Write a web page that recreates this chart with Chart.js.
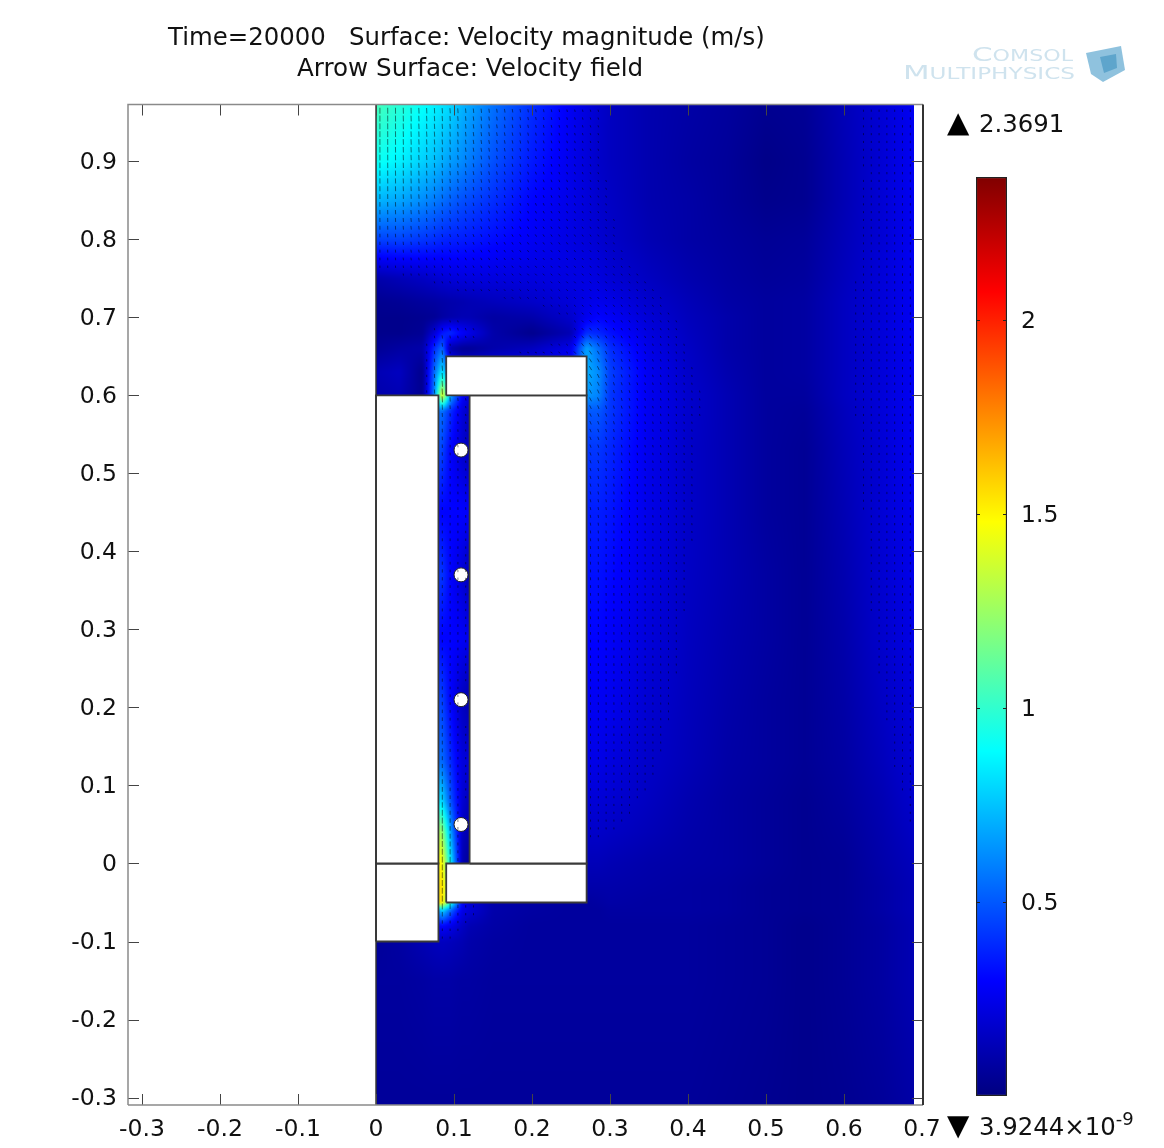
<!DOCTYPE html>
<html>
<head>
<meta charset="utf-8">
<title>Velocity magnitude</title>
<script src="https://cdn.jsdelivr.net/npm/chart.js@4"></script>
<style>
    body { margin: 0; background: #fff; font-family: "DejaVu Sans", sans-serif; color: #111; }
    canvas { position: absolute; }
    .label { position: absolute; font-size: 24.4px; line-height: 28px; white-space: pre; }
    .label sup { font-size: 18px; position: relative; top: -10px; line-height: 0; vertical-align: baseline; }
    .mark { font-size: 29px; color: #000; }
    #logo { position: absolute; left: 895px; top: 40px; }
</style>
</head>
<body>
<canvas id="fieldChart" width="1164" height="1148" style="left:0;top:0"></canvas>
<canvas id="colorBar" width="204" height="960" style="left:960px;top:160px"></canvas>

<div class="label" style="left:168px;top:23px">Time=20000   Surface: Velocity magnitude (m/s)</div>
<div class="label" style="left:297px;top:54px;font-size:24.6px">Arrow Surface: Velocity field</div>
<div class="label mark" style="left:947px;top:108px">▲</div>
<div class="label" style="left:979px;top:110px">2.3691</div>
<div class="label mark" style="left:947px;top:1111px">▼</div>
<div class="label" style="left:979px;top:1113px">3.9244×10<sup>-9</sup></div>

<svg id="logo" width="240" height="50">
    <text x="77" y="21" textLength="101" lengthAdjust="spacingAndGlyphs" fill="#cfe3ee"><tspan font-size="20">C</tspan><tspan font-size="15">OMSOL</tspan></text>
    <text x="8" y="39" textLength="172" lengthAdjust="spacingAndGlyphs" fill="#cfe3ee"><tspan font-size="20">M</tspan><tspan font-size="15">ULTIPHYSICS</tspan></text>
    <polygon points="191,13 226,6 230,30 208,42 196,34" fill="#8fc2de"/>
    <polygon points="205,17 221,14 222,28 209,33" fill="#5ea5cc"/>
</svg>

<script>
const xTicks = [-0.3, -0.2, -0.1, 0, 0.1, 0.2, 0.3, 0.4, 0.5, 0.6, 0.7];
const yTicks = [-0.3, -0.2, -0.1, 0, 0.1, 0.2, 0.3, 0.4, 0.5, 0.6, 0.7, 0.8, 0.9];
const barTicks = [0.5, 1, 1.5, 2];
const speedMin = 3.9244e-9;
const speedMax = 2.3691;

// solid parts of the model, [x0, x1, y0, y1]
const solidBoxes = [
    [0, 0.08, 0, 0.6],
    [0, 0.08, -0.1, 0],
    [0.09, 0.27, 0.6, 0.65],
    [0.12, 0.27, 0, 0.6],
    [0.09, 0.27, -0.05, 0]
];
const wireX = [0.109, 0.109, 0.109, 0.109];
const wireY = [0.53, 0.37, 0.21, 0.05];

// velocity magnitude, one row per fieldY, one value per fieldX
const fieldX = [0, 0.03, 0.06, 0.075, 0.085, 0.095, 0.11, 0.12, 0.15, 0.2, 0.25, 0.27, 0.285, 0.3, 0.35, 0.4, 0.45, 0.5, 0.55, 0.6, 0.65, 0.69];
const fieldY = [0.973, 0.9, 0.85, 0.8, 0.75, 0.72, 0.7, 0.68, 0.66, 0.63, 0.6, 0.58, 0.53, 0.45, 0.37, 0.29, 0.21, 0.13, 0.08, 0.04, 0, -0.03, -0.05, -0.06, -0.08, -0.1, -0.15, -0.31];
const fieldSpeed = [
    [1.05, 0.98, 0.9, 0.86, 0.83, 0.8, 0.72, 0.68, 0.56, 0.4, 0.27, 0.22, 0.18, 0.15, 0.11, 0.09, 0.07, 0.04, 0.05, 0.13, 0.2, 0.27],
    [0.92, 0.86, 0.78, 0.74, 0.7, 0.66, 0.62, 0.58, 0.48, 0.35, 0.25, 0.21, 0.17, 0.15, 0.11, 0.08, 0.06, 0.02, 0.04, 0.12, 0.2, 0.27],
    [0.72, 0.68, 0.62, 0.58, 0.55, 0.52, 0.48, 0.46, 0.4, 0.3, 0.24, 0.21, 0.18, 0.16, 0.11, 0.09, 0.06, 0.03, 0.04, 0.12, 0.2, 0.27],
    [0.45, 0.45, 0.42, 0.4, 0.38, 0.37, 0.36, 0.35, 0.32, 0.27, 0.23, 0.21, 0.19, 0.17, 0.12, 0.09, 0.07, 0.05, 0.06, 0.13, 0.2, 0.27],
    [0.1, 0.13, 0.16, 0.18, 0.2, 0.21, 0.22, 0.22, 0.22, 0.22, 0.23, 0.23, 0.22, 0.2, 0.15, 0.11, 0.08, 0.06, 0.07, 0.14, 0.21, 0.27],
    [0.04, 0.05, 0.07, 0.08, 0.09, 0.1, 0.11, 0.12, 0.14, 0.17, 0.21, 0.24, 0.25, 0.24, 0.18, 0.13, 0.09, 0.07, 0.08, 0.15, 0.21, 0.27],
    [0.03, 0.03, 0.04, 0.05, 0.08, 0.1, 0.12, 0.12, 0.08, 0.1, 0.18, 0.26, 0.3, 0.28, 0.2, 0.14, 0.1, 0.07, 0.08, 0.15, 0.21, 0.27],
    [0.03, 0.03, 0.05, 0.2, 0.35, 0.4, 0.3, 0.25, 0.1, 0.03, 0.12, 0.4, 0.38, 0.33, 0.22, 0.15, 0.1, 0.07, 0.08, 0.15, 0.21, 0.27],
    [0.05, 0.08, 0.1, 0.4, 0.55, 0.1, 0.05, 0.05, 0.1, 0.15, 0.25, 0.68, 0.55, 0.4, 0.24, 0.16, 0.1, 0.07, 0.08, 0.15, 0.21, 0.27],
    [0.12, 0.15, 0.03, 0.55, 0.85, 0.5, 0.3, 0.3, 0.3, 0.3, 0.3, 0.7, 0.62, 0.44, 0.26, 0.17, 0.11, 0.07, 0.08, 0.15, 0.21, 0.27],
    [0.1, 0.12, 0.04, 0.6, 1.5, 0.7, 0.3, 0.2, 0.3, 0.3, 0.3, 0.65, 0.6, 0.42, 0.26, 0.18, 0.12, 0.07, 0.07, 0.15, 0.21, 0.27],
    [0.5, 0.5, 0.5, 0.55, 0.55, 0.4, 0.22, 0.15, 0.3, 0.3, 0.3, 0.5, 0.5, 0.42, 0.26, 0.18, 0.12, 0.07, 0.06, 0.14, 0.21, 0.27],
    [0.5, 0.5, 0.5, 0.5, 0.45, 0.3, 0.18, 0.12, 0.3, 0.3, 0.3, 0.42, 0.42, 0.38, 0.25, 0.17, 0.12, 0.07, 0.05, 0.13, 0.2, 0.27],
    [0.3, 0.3, 0.3, 0.3, 0.3, 0.3, 0.3, 0.28, 0.3, 0.3, 0.3, 0.36, 0.36, 0.34, 0.24, 0.17, 0.12, 0.07, 0.05, 0.12, 0.2, 0.26],
    [0.42, 0.42, 0.42, 0.42, 0.42, 0.3, 0.2, 0.12, 0.3, 0.3, 0.3, 0.33, 0.33, 0.31, 0.23, 0.16, 0.12, 0.08, 0.05, 0.11, 0.19, 0.25],
    [0.3, 0.3, 0.3, 0.3, 0.3, 0.3, 0.28, 0.25, 0.3, 0.3, 0.3, 0.3, 0.3, 0.28, 0.21, 0.15, 0.11, 0.08, 0.05, 0.1, 0.18, 0.24],
    [0.45, 0.45, 0.45, 0.45, 0.45, 0.3, 0.15, 0.1, 0.3, 0.3, 0.3, 0.27, 0.27, 0.26, 0.19, 0.14, 0.1, 0.07, 0.05, 0.09, 0.16, 0.22],
    [0.55, 0.55, 0.55, 0.55, 0.55, 0.4, 0.22, 0.2, 0.3, 0.3, 0.3, 0.24, 0.24, 0.22, 0.17, 0.13, 0.09, 0.07, 0.05, 0.08, 0.14, 0.2],
    [0.85, 0.85, 0.85, 0.85, 0.8, 0.5, 0.2, 0.13, 0.2, 0.2, 0.2, 0.2, 0.2, 0.19, 0.15, 0.11, 0.08, 0.06, 0.04, 0.07, 0.12, 0.18],
    [1.3, 1.3, 1.3, 1.3, 1.25, 0.7, 0.15, 0.1, 0.2, 0.2, 0.2, 0.17, 0.17, 0.16, 0.13, 0.1, 0.08, 0.06, 0.04, 0.06, 0.11, 0.16],
    [1.5, 1.5, 1.5, 1.5, 1.5, 0.9, 0.12, 0.05, 0.1, 0.1, 0.1, 0.13, 0.13, 0.12, 0.1, 0.09, 0.08, 0.06, 0.04, 0.05, 0.1, 0.14],
    [1.55, 1.55, 1.55, 1.55, 1.55, 1.2, 0.1, 0.1, 0.1, 0.1, 0.1, 0.1, 0.1, 0.1, 0.09, 0.08, 0.07, 0.05, 0.04, 0.05, 0.09, 0.13],
    [0.03, 0.03, 0.1, 1.55, 1.55, 1.0, 0.3, 0.2, 0.1, 0.08, 0.07, 0.07, 0.08, 0.09, 0.08, 0.08, 0.07, 0.05, 0.04, 0.05, 0.09, 0.13],
    [0.03, 0.03, 0.1, 0.5, 0.8, 0.55, 0.25, 0.2, 0.1, 0.08, 0.07, 0.07, 0.07, 0.08, 0.08, 0.08, 0.07, 0.05, 0.04, 0.05, 0.09, 0.13],
    [0.04, 0.05, 0.12, 0.25, 0.3, 0.25, 0.16, 0.12, 0.09, 0.07, 0.07, 0.07, 0.07, 0.07, 0.07, 0.07, 0.06, 0.05, 0.03, 0.05, 0.08, 0.12],
    [0.06, 0.08, 0.12, 0.14, 0.15, 0.14, 0.12, 0.1, 0.08, 0.07, 0.07, 0.07, 0.07, 0.07, 0.07, 0.07, 0.06, 0.05, 0.03, 0.05, 0.08, 0.12],
    [0.07, 0.07, 0.08, 0.09, 0.09, 0.09, 0.08, 0.08, 0.07, 0.07, 0.07, 0.07, 0.07, 0.07, 0.07, 0.07, 0.06, 0.05, 0.03, 0.05, 0.08, 0.12],
    [0.06, 0.06, 0.06, 0.06, 0.06, 0.06, 0.06, 0.06, 0.06, 0.06, 0.06, 0.06, 0.06, 0.06, 0.06, 0.06, 0.05, 0.04, 0.03, 0.04, 0.06, 0.09]
];

// lean of the arrows from vertical, degrees, one row per tiltY, one value per tiltX
const tiltX = [0, 0.1, 0.2, 0.3, 0.4, 0.5, 0.6, 0.69];
const tiltY = [0.973, 0.85, 0.75, 0.7, 0.65, 0.4, 0, -0.31];
const tiltDeg = [
    [0, 4, 10, 14, 14, 8, 2, 0],
    [0, 8, 20, 26, 22, 10, 2, 0],
    [0, 25, 45, 40, 28, 12, 2, 0],
    [0, 15, 60, 35, 25, 12, 2, 0],
    [0, 5, 70, 20, 15, 8, 2, 0],
    [0, 0, 0, 4, 6, 4, 1, 0],
    [0, 0, 0, 2, 2, 1, 0, 0],
    [0, 0, 0, 0, 0, 0, 0, 0]
];

// inward tick marks on all four sides
const frameTicksPlugin = {
    id: 'frameTicks',
    afterDatasetsDraw(chart) {
        const { ctx, chartArea: a, scales } = chart;
        ctx.save();
        ctx.lineWidth = 1;
        ctx.strokeStyle = '#444';
        xTicks.forEach(t => {
            const px = Math.round(scales.x.getPixelForValue(t)) + 0.5;
            ctx.beginPath();
            ctx.moveTo(px, a.bottom); ctx.lineTo(px, a.bottom - 11);
            ctx.moveTo(px, a.top); ctx.lineTo(px, a.top + 11);
            ctx.stroke();
        });
        yTicks.forEach(t => {
            const py = Math.round(scales.y.getPixelForValue(t)) + 0.5;
            ctx.beginPath();
            ctx.moveTo(a.left, py); ctx.lineTo(a.left + 11, py);
            ctx.moveTo(a.right, py); ctx.lineTo(a.right - 11, py);
            ctx.stroke();
        });
        ctx.strokeStyle = '#8a8a8a';
        ctx.lineWidth = 1.5;
        ctx.beginPath();
        ctx.moveTo(a.left, a.bottom); ctx.lineTo(a.left, a.top); ctx.lineTo(a.right, a.top);
        ctx.moveTo(a.left, a.bottom); ctx.lineTo(a.right, a.bottom);
        ctx.stroke();
        ctx.strokeStyle = '#333';
        ctx.lineWidth = 2;
        ctx.beginPath();
        ctx.moveTo(a.right, a.top); ctx.lineTo(a.right, a.bottom);
        ctx.stroke();
        ctx.restore();
    }
};

// paints the speed table behind the datasets
const speedSurfacePlugin = {
    id: 'speedSurface',
    beforeDatasetsDraw(chart) {
        const { ctx, scales } = chart;
        const left = Math.round(scales.x.getPixelForValue(fieldX[0]));
        const right = Math.round(scales.x.getPixelForValue(fieldX[fieldX.length - 1]));
        const top = Math.round(chart.chartArea.top);
        const bottom = Math.round(chart.chartArea.bottom);
        const layer = document.createElement('canvas');
        layer.width = right - left;
        layer.height = bottom - top;
        const layerCtx = layer.getContext('2d');
        const image = layerCtx.createImageData(layer.width, layer.height);
        for (let py = top; py < bottom; py++) {
            const yVal = scales.y.getValueForPixel(py + 0.5);
            for (let px = left; px < right; px++) {
                const c = jetColor(speedAt(scales.x.getValueForPixel(px + 0.5), yVal));
                const k = ((py - top) * layer.width + px - left) * 4;
                image.data[k] = c[0];
                image.data[k + 1] = c[1];
                image.data[k + 2] = c[2];
                image.data[k + 3] = 255;
            }
        }
        layerCtx.putImageData(image, 0, 0);
        ctx.save();
        ctx.beginPath();
        ctx.rect(left, top, layer.width, layer.height);
        ctx.clip();
        // sharp copy first so the soft one does not fade at the edges
        ctx.drawImage(layer, left, top);
        ctx.filter = 'blur(1.5px)';
        ctx.drawImage(layer, left, top);
        ctx.restore();
    }
};

function tableLookup(axis, value) {
    // axis may run either way, returns lower index and fraction
    const rising = axis[1] > axis[0];
    let i = 0;
    while (i < axis.length - 2 && (rising ? value > axis[i + 1] : value < axis[i + 1])) i++;
    const f = (value - axis[i]) / (axis[i + 1] - axis[i]);
    return [i, Math.min(1, Math.max(0, f))];
}

function tableValue(xs, ys, rows, x, y) {
    const [i, fx] = tableLookup(xs, x);
    const [j, fy] = tableLookup(ys, y);
    const top = rows[j][i] * (1 - fx) + rows[j][i + 1] * fx;
    const bottom = rows[j + 1][i] * (1 - fx) + rows[j + 1][i + 1] * fx;
    return top * (1 - fy) + bottom * fy;
}

function speedAt(x, y) {
    return tableValue(fieldX, fieldY, fieldSpeed, x, y);
}

function jetColor(value) {
    const t = value / speedMax;
    const channel = c => Math.round(255 * Math.min(1, Math.max(0, 1.5 - Math.abs(4 * t - c))));
    return [channel(3), channel(2), channel(1)];
}

function insideSolid(x, y) {
    return solidBoxes.some(b => x >= b[0] && x <= b[1] && y >= b[2] && y <= b[3]);
}

function buildArrows() {
    const arrows = [];
    for (let i = 0; i < 69; i++) {
        for (let j = 0; j < 128; j++) {
            const x = 0.005 + i / 100;
            const y = -0.31 + 0.005 + j / 100;
            if (insideSolid(x, y)) continue;
            if (speedAt(x, y) < 0.16) continue;
            arrows.push({ x: x, y: y });
        }
    }
    return arrows;
}

function boxDatasets() {
    return solidBoxes.map(b => ({
        type: 'scatter',
        showLine: true,
        fill: 'shape',
        backgroundColor: '#fff',
        borderColor: '#3a3a3a',
        borderWidth: 1.8,
        pointRadius: 0,
        data: [
            { x: b[0], y: b[2] }, { x: b[1], y: b[2] },
            { x: b[1], y: b[3] }, { x: b[0], y: b[3] }, { x: b[0], y: b[2] }
        ]
    }));
}

function setupFieldChart() {
    const datasets = [{
        type: 'scatter',
        data: buildArrows(),
        pointStyle: 'line',
        borderWidth: 1,
        pointBorderColor: 'rgba(0,0,0,0.5)',
        pointRadius: c => Math.min(3, 0.6 + speedAt(c.raw.x, c.raw.y) * 2.5),
        pointRotation: c => 90 - tableValue(tiltX, tiltY, tiltDeg, c.raw.x, c.raw.y)
    }, {
        type: 'scatter',
        showLine: true,
        borderColor: '#333',
        borderWidth: 1.5,
        pointRadius: 0,
        data: [{ x: 0, y: 0.973 }, { x: 0, y: -0.3096 }]
    }];
    datasets.push(...boxDatasets());
    datasets.push({
        type: 'scatter',
        data: wireX.map((x, i) => ({ x: x, y: wireY[i] })),
        pointRadius: 7,
        pointBackgroundColor: '#fff',
        pointBorderColor: '#222',
        pointBorderWidth: 1
    });

    new Chart(document.getElementById('fieldChart'), {
        type: 'scatter',
        data: { datasets: datasets },
        plugins: [speedSurfacePlugin, frameTicksPlugin],
        options: {
            responsive: false,
            animation: false,
            layout: { padding: { left: 0, right: 241, top: 104.5, bottom: 0 } },
            plugins: { legend: { display: false }, tooltip: { enabled: false } },
            scales: {
                x: {
                    type: 'linear',
                    min: -0.318,
                    max: 0.7013,
                    grid: { display: false },
                    border: { display: false },
                    afterBuildTicks: s => { s.ticks = xTicks.map(v => ({ value: v })); },
                    afterFit: s => { s.height = 43; },
                    ticks: {
                        color: '#111',
                        font: { family: 'DejaVu Sans', size: 23.5 },
                        autoSkip: false,
                        maxRotation: 0,
                        padding: 3,
                        callback: v => String(v)
                    }
                },
                y: {
                    type: 'linear',
                    min: -0.3096,
                    max: 0.973,
                    grid: { display: false },
                    border: { display: false },
                    afterBuildTicks: s => { s.ticks = yTicks.map(v => ({ value: v })); },
                    afterFit: s => { s.width = 128; },
                    ticks: {
                        color: '#111',
                        font: { family: 'DejaVu Sans', size: 23.5 },
                        autoSkip: false,
                        padding: 3,
                        labelOffset: 1.5,
                        callback: v => String(v)
                    }
                }
            }
        }
    });
}

function setupColorBar() {
    const barEdgeTicks = {
        id: 'barEdgeTicks',
        afterDatasetsDraw(chart) {
            const { ctx, chartArea: a, scales } = chart;
            ctx.save();
            ctx.strokeStyle = '#222';
            ctx.lineWidth = 1;
            barTicks.forEach(t => {
                const py = Math.round(scales.y.getPixelForValue(t)) + 0.5;
                ctx.beginPath();
                ctx.moveTo(a.left, py); ctx.lineTo(a.left + 4, py);
                ctx.moveTo(a.right, py); ctx.lineTo(a.right - 4, py);
                ctx.stroke();
            });
            ctx.restore();
        }
    };

    new Chart(document.getElementById('colorBar'), {
        type: 'bar',
        data: {
            labels: ['speed'],
            datasets: [{
                data: [[speedMin, speedMax]],
                categoryPercentage: 1,
                barPercentage: 1,
                borderColor: '#222',
                borderWidth: 1.5,
                borderSkipped: false,
                backgroundColor: c => {
                    const a = c.chart.chartArea;
                    if (!a) return '#00f';
                    const g = c.chart.ctx.createLinearGradient(0, a.bottom, 0, a.top);
                    for (let k = 0; k <= 32; k++) {
                        const col = jetColor(speedMax * k / 32);
                        g.addColorStop(k / 32, 'rgb(' + col.join(',') + ')');
                    }
                    return g;
                }
            }]
        },
        plugins: [barEdgeTicks],
        options: {
            responsive: false,
            animation: false,
            layout: { padding: { left: 16, right: 0, top: 17, bottom: 24 } },
            plugins: { legend: { display: false }, tooltip: { enabled: false } },
            scales: {
                x: {
                    display: false
                },
                y: {
                    position: 'right',
                    min: 0,
                    max: speedMax,
                    grid: { display: false },
                    border: { display: false },
                    afterBuildTicks: s => { s.ticks = barTicks.map(v => ({ value: v })); },
                    afterFit: s => { s.width = 157; s.paddingTop = 0; s.paddingBottom = 0; },
                    ticks: {
                        color: '#111',
                        font: { family: 'DejaVu Sans', size: 23.5 },
                        autoSkip: false,
                        padding: 6,
                        labelOffset: 1.5,
                        callback: v => String(v)
                    }
                }
            }
        }
    });
}

document.addEventListener('DOMContentLoaded', function() {
    setupFieldChart();
    setupColorBar();
});
</script>
</body>
</html>
